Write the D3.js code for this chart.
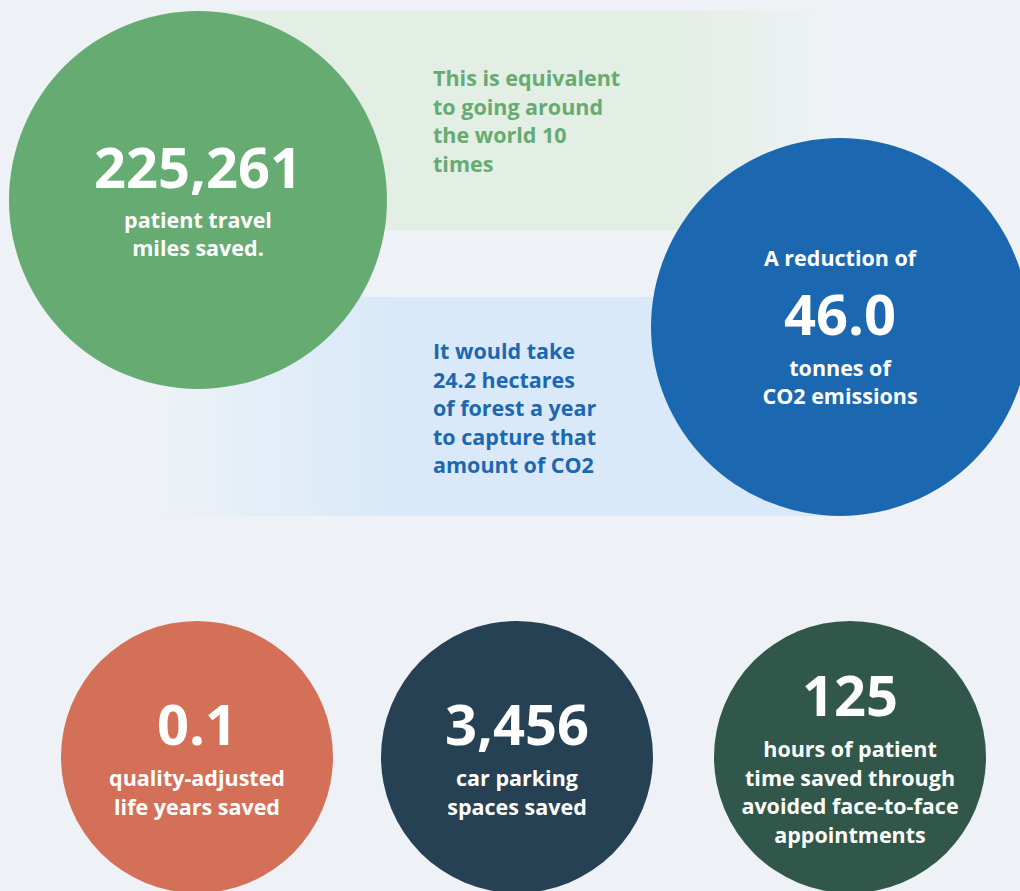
<!DOCTYPE html>
<html>
<head>
<meta charset="utf-8">
<script src="https://cdn.jsdelivr.net/npm/d3@7"></script>
<style>
  html, body { margin: 0; padding: 0; background: #eef2f6; }
  svg { display: block; }
  text { font-family: "Open Sans", "Noto Sans", sans-serif; font-weight: 700; }
</style>
</head>
<body>
<div id="chart"></div>
<script>
// headline figures (top pair)
var topKeys = ["miles", "co2"];
var topValues = ["225,261", "46.0"];
var topPre = ["", "A reduction of"];
var topCaptions = [["patient travel", "miles saved."], ["tonnes of", "CO2 emissions"]];
var topColors = ["#66ab71", "#1c68b0"];
var bandColors = ["#e3eee4", "#d9e9f9"];
var bandNotes = [
  ["This is equivalent", "to going around", "the world 10", "times"],
  ["It would take", "24.2 hectares", "of forest a year", "to capture that", "amount of CO2"]
];

// bottom row
var bottomKeys = ["qaly", "parking", "hours"];
var bottomValues = ["0.1", "3,456", "125"];
var bottomCaptions = [
  ["quality-adjusted", "life years saved"],
  ["car parking", "spaces saved"],
  ["hours of patient", "time saved through", "avoided face-to-face", "appointments"]
];
var bottomColors = ["#d47058", "#264154", "#30574a"];

var width = 1020, height = 891;
var svg = d3.select("#chart").append("svg")
  .attr("width", width).attr("height", height);

svg.append("rect").attr("width", width).attr("height", height).attr("fill", "#eef2f6");

var defs = svg.append("defs");
// green band fades out on the right
var g1 = defs.append("linearGradient").attr("id", "bandGreen").attr("x1", 0).attr("x2", 1);
g1.append("stop").attr("offset", "0%").attr("stop-color", bandColors[0]);
g1.append("stop").attr("offset", "75%").attr("stop-color", bandColors[0]);
g1.append("stop").attr("offset", "100%").attr("stop-color", "#eef2f6");
// blue band fades in from the left
var g2 = defs.append("linearGradient").attr("id", "bandBlue").attr("x1", 0).attr("x2", 1);
g2.append("stop").attr("offset", "0%").attr("stop-color", "#eef2f6");
g2.append("stop").attr("offset", "35%").attr("stop-color", bandColors[1]);
g2.append("stop").attr("offset", "100%").attr("stop-color", bandColors[1]);

// top layout: two rows, left/right
var xTop = d3.scalePoint().domain(topKeys).range([198, 840]);
var yTop = d3.scalePoint().domain(topKeys).range([200, 327]);
var rTop = 189;

// bands
svg.append("rect")
  .attr("x", xTop("miles")).attr("y", 11)
  .attr("width", 640).attr("height", 219)
  .attr("fill", "url(#bandGreen)");
svg.append("rect")
  .attr("x", 150).attr("y", 297)
  .attr("width", xTop("co2") - 150).attr("height", 219)
  .attr("fill", "url(#bandBlue)");

// band notes
var noteTop = [86, 359];
bandNotes.forEach(function (lines, i) {
  var t = svg.append("text")
    .attr("x", 433).attr("y", noteTop[i])
    .attr("fill", topColors[i])
    .attr("font-size", 21.5);
  lines.forEach(function (l, j) {
    t.append("tspan").attr("x", 433).attr("dy", j === 0 ? 0 : 28.5).text(l);
  });
});

// top circles
var tg = svg.selectAll("g.top").data(topKeys).enter().append("g")
  .attr("class", "top")
  .attr("transform", function (d) { return "translate(" + xTop(d) + "," + yTop(d) + ")"; });

tg.append("circle").attr("r", rTop).attr("fill", function (d, i) { return topColors[i]; });

tg.append("text")
  .attr("text-anchor", "middle").attr("fill", "#fff").attr("font-size", 21.5)
  .attr("y", -61)
  .text(function (d, i) { return topPre[i]; });

tg.append("text")
  .attr("text-anchor", "middle").attr("fill", "#fff").attr("font-size", 56)
  .attr("y", function (d, i) { return i === 0 ? -12 : 8; })
  .text(function (d, i) { return topValues[i]; });

tg.each(function (d, i) {
  var t = d3.select(this).append("text")
    .attr("text-anchor", "middle").attr("fill", "#fff").attr("font-size", 21.5)
    .attr("y", i === 0 ? 28 : 49);
  topCaptions[i].forEach(function (l, j) {
    t.append("tspan").attr("x", 0).attr("dy", j === 0 ? 0 : 28).text(l);
  });
});

// bottom circles
var xBot = d3.scaleLinear().domain([0, 1, 2]).range([197, 517, 850]);
var rBot = 136, cyBot = 757;

var bg = svg.selectAll("g.bot").data(bottomKeys).enter().append("g")
  .attr("class", "bot")
  .attr("transform", function (d, i) { return "translate(" + xBot(i) + "," + cyBot + ")"; });

bg.append("circle").attr("r", rBot).attr("fill", function (d, i) { return bottomColors[i]; });

bg.append("text")
  .attr("text-anchor", "middle").attr("fill", "#fff").attr("font-size", 56)
  .attr("y", function (d, i) { return i === 2 ? -41 : -12; })
  .text(function (d, i) { return bottomValues[i]; });

bg.each(function (d, i) {
  var t = d3.select(this).append("text")
    .attr("text-anchor", "middle").attr("fill", "#fff").attr("font-size", 21.5)
    .attr("y", i === 2 ? 0 : 29);
  bottomCaptions[i].forEach(function (l, j) {
    t.append("tspan").attr("x", 0).attr("dy", j === 0 ? 0 : 28.5).text(l);
  });
});
</script>
</body>
</html>
